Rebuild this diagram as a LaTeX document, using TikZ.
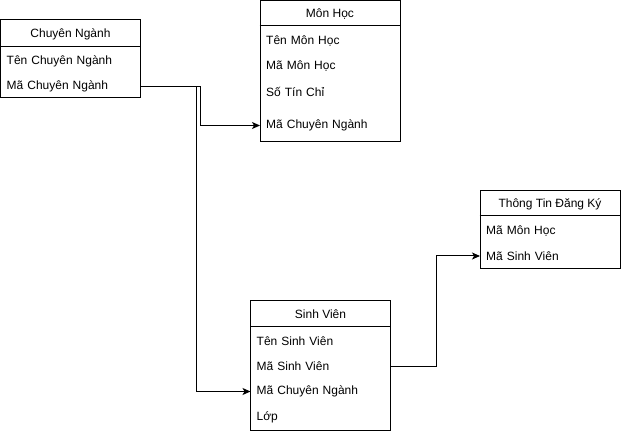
\documentclass[tikz,border=0pt]{standalone}
\usepackage{fontspec}
\setmainfont{Liberation Sans}
\usetikzlibrary{arrows.meta}
\begin{document}
\begin{tikzpicture}[x=1bp,y=-1bp,
  font=\fontsize{12bp}{14bp}\selectfont,
  entity/.style={draw=black, line width=1bp, fill=white, rectangle, inner sep=0, minimum width=140bp},
  title/.style={inner sep=0, anchor=center},
  row/.style={anchor=west, inner xsep=6bp, inner ysep=0, text width=128bp, align=left, minimum height=20bp},
  conn/.style={draw=black, line width=1bp, -{Stealth[length=8bp,width=7bp,inset=2bp]}}]
\useasboundingbox (0,0) rectangle (621,434);
% Chuyen Nganh
\node[entity, minimum height=78bp] (cn) at (70.5,59) {};
\node[title] (cnT) at (70.5,34) {Chuyên Ngành};
\draw[line width=1bp] (cn.west |- 0,46.5) -- (cn.east |- 0,46.5);
\node[row] (cnTen) at (0.5,61) {Tên Chuyên Ngành};
\node[row] (cnMa) at (0.5,86.5) {Mã Chuyên Ngành};
% Mon Hoc
\node[entity, minimum height=141bp] (mh) at (330,71.5) {};
\node[title] (mhT) at (330,14) {Môn Học};
\draw[line width=1bp] (mh.west |- 0,25.5) -- (mh.east |- 0,25.5);
\node[row] (mhTen) at (260,41) {Tên Môn Học};
\node[row] (mhMa) at (260,66.5) {Mã Môn Học};
\node[row] (mhSo) at (260,92) {Số Tín Chỉ};
\node[row] (mhCN) at (260,125.5) {Mã Chuyên Ngành};
% Sinh Vien
\node[entity, minimum height=129.5bp] (sv) at (320.5,365.25) {};
\node[title] (svT) at (320.5,314) {Sinh Viên};
\draw[line width=1bp] (sv.west |- 0,326.5) -- (sv.east |- 0,326.5);
\node[row] (svTen) at (250.5,341) {Tên Sinh Viên};
\node[row] (svMa) at (250.5,366) {Mã Sinh Viên};
\node[row] (svCN) at (250.5,391.5) {Mã Chuyên Ngành};
\node[row] (svLop) at (250.5,417) {Lớp};
% Thong Tin Dang Ky
\node[entity, minimum height=77bp] (tt) at (550,229.5) {};
\node[title] (ttT) at (550,204) {Thông Tin Đăng Ký};
\draw[line width=1bp] (tt.west |- 0,215.5) -- (tt.east |- 0,215.5);
\node[row] (ttMh) at (480,231) {Mã Môn Học};
\node[row] (ttSv) at (480,256) {Mã Sinh Viên};
% connectors
\draw[conn] (cnMa.east) -- ++(60,0) |- (mhCN.west);
\draw[conn] (cnMa.east) -- ++(55.5,0) |- (svCN.west);
\draw[conn] (svMa.east) -- ++(45.5,0) |- (ttSv.west);
\end{tikzpicture}
\end{document}
